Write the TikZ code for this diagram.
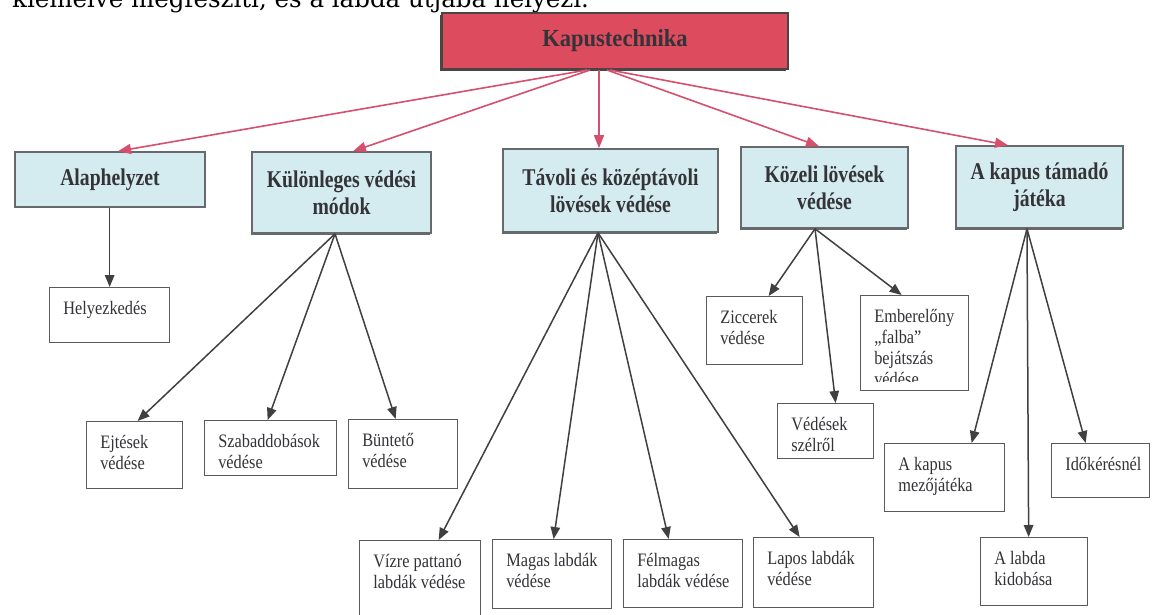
\documentclass[tikz,border=0pt]{standalone}
\usepackage{fontspec}
\usetikzlibrary{arrows.meta,shadows}
\newfontfamily\topfont{DejaVu Serif}
\newfontfamily\titlefont{Liberation Serif}[FakeStretch=0.92]
\newfontfamily\hdrfont{Liberation Serif}[FakeStretch=0.82]
\newfontfamily\bodyfont{Liberation Serif}[FakeStretch=0.86]
\definecolor{kapred}{HTML}{DC4B5E}
\definecolor{kapedge}{HTML}{4A4444}
\definecolor{hdrblue}{HTML}{D4EBF0}
\definecolor{hdredge}{HTML}{666A6C}
\definecolor{arrred}{HTML}{D6506E}
\definecolor{arrgray}{HTML}{404040}
\definecolor{txtgray}{HTML}{333338}
\definecolor{boxedge}{HTML}{5A5A5A}
\begin{document}
\begin{tikzpicture}[x=1pt,y=-1pt,
  titlebox/.style={draw=kapedge, line width=2pt, fill=kapred, inner sep=0pt, text=txtgray,
    font=\titlefont\bfseries\fontsize{24.5}{27}\selectfont,
    drop shadow={shadow xshift=-2pt,shadow yshift=-2.5pt,fill=kapedge,opacity=1}},
  hdrbox/.style={draw=hdredge, line width=1.6pt, fill=hdrblue, inner sep=0pt, align=center, text=txtgray,
    font=\hdrfont\bfseries\fontsize{24}{27}\selectfont,
    drop shadow={shadow xshift=-1pt,shadow yshift=-1.5pt,fill=hdredge,opacity=1}},
  lbox/.style={draw=boxedge, line width=1.3pt, fill=white, anchor=north west, inner sep=0pt},
  ltextnode/.style={anchor=north west, inner sep=0pt, minimum width=0pt, minimum height=0pt,
    align=left, text=txtgray, font=\bodyfont\fontsize{19}{21}\selectfont},
  ltxt/.style={path picture={\node[ltextnode] at ([xshift=13pt,yshift=-10pt]path picture bounding box.north west) {\rule{0pt}{16pt}#1};}},
  ltxtcut/.style={path picture={\clip ([yshift=9pt]path picture bounding box.south west) rectangle (path picture bounding box.north east);
    \node[ltextnode] at ([xshift=13pt,yshift=-10pt]path picture bounding box.north west) {\rule{0pt}{16pt}#1};}},
  redarr/.style={draw=arrred, line width=1.6pt, -{Triangle[length=13pt,width=10pt]}},
  grayarr/.style={draw=arrgray, line width=1.5pt, -{Triangle[length=12pt,width=9.5pt]}},
]
\useasboundingbox (0,0) rectangle (1152,615);
\clip (0,0) rectangle (1152,615);
\fill[white] (0,0) rectangle (1152,615);

\node[anchor=base west, inner sep=0pt, font=\topfont\fontsize{24.5}{26}\selectfont, text=black] (toptext) at (12,8) {kiemelve megfeszíti, és a labda útjába helyezi.};

\node[titlebox, minimum width=346pt, minimum height=56pt] (kap) at (615,41) {Kapustechnika};

\node[hdrbox, minimum width=190pt, minimum height=55pt] (alap) at (110,179.5) {Alaphelyzet};
\node[hdrbox, minimum width=179pt, minimum height=81pt] (kul) at (341.5,192.5) {Különleges védési\\módok};
\node[hdrbox, minimum width=215pt, minimum height=83pt] (tav) at (610.5,190.5) {Távoli és középtávoli\\lövések védése};
\node[hdrbox, minimum width=167pt, minimum height=81pt] (koz) at (824.5,187.5) {Közeli lövések\\védése};
\node[hdrbox, minimum width=167pt, minimum height=82pt] (akap) at (1039.5,187) {A kapus támadó\\játéka};

\node[lbox, minimum width=120pt, minimum height=55pt, ltxt={Helyezkedés}] (helyez) at (49,287) {};
\node[lbox, minimum width=96pt, minimum height=67pt, ltxt={Ejtések\\védése}] (ejt) at (86,421) {};
\node[lbox, minimum width=132pt, minimum height=55pt, ltxt={Szabaddobások\\védése}] (szab) at (204,420) {};
\node[lbox, minimum width=109pt, minimum height=69pt, ltxt={Büntető\\védése}] (bunt) at (348,419) {};
\node[lbox, minimum width=121pt, minimum height=100pt, ltxt={Vízre pattanó\\labdák védése}] (viz) at (359,540) {};
\node[lbox, minimum width=119pt, minimum height=69pt, ltxt={Magas labdák\\védése}] (magas) at (492,539) {};
\node[lbox, minimum width=119pt, minimum height=68pt, ltxt={Félmagas\\labdák védése}] (felm) at (623,539) {};
\node[lbox, minimum width=120pt, minimum height=70pt, ltxt={Lapos labdák\\védése}] (lapos) at (753,537) {};
\node[lbox, minimum width=96pt, minimum height=68pt, ltxt={Ziccerek\\védése}] (zicc) at (706,296) {};
\node[lbox, minimum width=108pt, minimum height=95pt, ltxtcut={Emberelőny\\„falba”\\bejátszás\\védése}] (ember) at (860,295) {};
\node[lbox, minimum width=96pt, minimum height=55pt, ltxt={Védések\\szélről}] (szel) at (777,403) {};
\node[lbox, minimum width=120pt, minimum height=68pt, ltxt={A kapus\\mezőjátéka}] (mezo) at (884,443) {};
\node[lbox, minimum width=98pt, minimum height=54pt, ltxt={Időkérésnél}] (ido) at (1051,443) {};
\node[lbox, minimum width=107pt, minimum height=68pt, ltxt={A labda\\kidobása}] (kidob) at (980,537) {};

\draw[redarr] ([xshift=-28pt]kap.south) -- ([xshift=8pt]alap.north);
\draw[redarr] ([xshift=-25pt]kap.south) -- ([xshift=11.5pt]kul.north);
\draw[redarr] ([xshift=-16pt]kap.south) -- ([xshift=-11.5pt]tav.north);
\draw[redarr] ([xshift=-8pt]kap.south) -- ([xshift=-5.5pt]koz.north);
\draw[redarr] ([xshift=-5pt]kap.south) -- ([xshift=-31.5pt]akap.north);

\draw[grayarr] (alap.south -| helyez.north) -- (helyez.north);

\draw[grayarr] ([xshift=-6.5pt]kul.south) -- ([xshift=3pt]ejt.north);
\draw[grayarr] ([xshift=-6.5pt]kul.south) -- ([xshift=-3pt]szab.north);
\draw[grayarr] ([xshift=-6.5pt]kul.south) -- ([xshift=-7.5pt]bunt.north);

\draw[grayarr] ([xshift=-12.5pt]tav.south) -- ([xshift=18.5pt]viz.north);
\draw[grayarr] ([xshift=-12.5pt]tav.south) -- ([xshift=1.5pt]magas.north);
\draw[grayarr] ([xshift=-12.5pt]tav.south) -- ([xshift=-14.5pt]felm.north);
\draw[grayarr] ([xshift=-12.5pt]tav.south) -- ([xshift=-14pt]lapos.north);

\draw[grayarr] ([xshift=-9.5pt]koz.south) -- ([xshift=14pt]zicc.north);
\draw[grayarr] ([xshift=-9.5pt]koz.south) -- ([xshift=10pt]szel.north);
\draw[grayarr] ([xshift=-9.5pt]koz.south) -- ([xshift=-13pt]ember.north);

\draw[grayarr] ([xshift=-12.5pt]akap.south) -- ([xshift=27pt]mezo.north);
\draw[grayarr] ([xshift=-12.5pt]akap.south) -- ([xshift=-5.5pt]kidob.north);
\draw[grayarr] ([xshift=-12.5pt]akap.south) -- ([xshift=-15pt]ido.north);
\end{tikzpicture}
\end{document}
